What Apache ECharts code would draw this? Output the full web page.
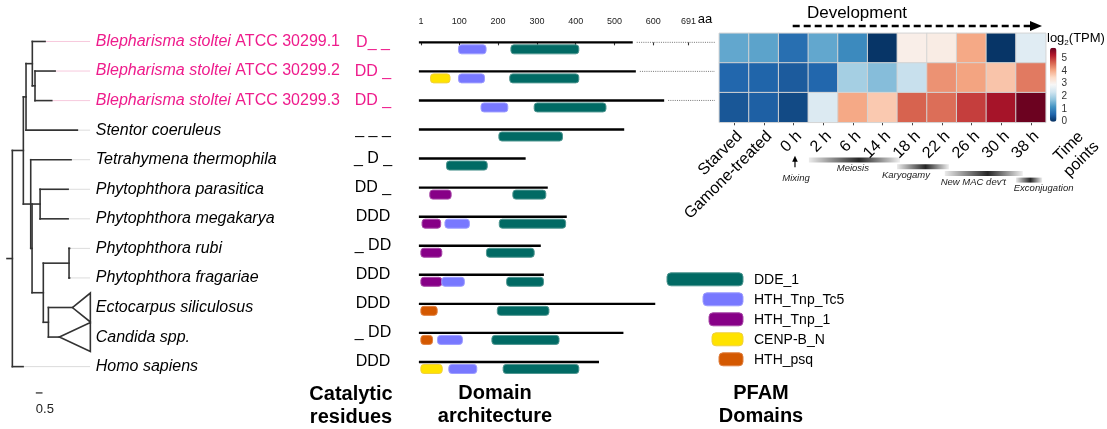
<!DOCTYPE html>
<html><head><meta charset="utf-8">
<script src="https://cdn.jsdelivr.net/npm/echarts@6/dist/echarts.min.js"></script>
<style>html,body{margin:0;padding:0;background:#fff}#c{width:1107px;height:429px}</style>
</head><body><div id="c"></div>
<script>
const FONT = '"Liberation Sans", Arial, Helvetica, sans-serif';
const PINK = '#ee1c8c';

// ---- data ----
const speciesNames = ['Blepharisma stoltei ATCC 30299.1','Blepharisma stoltei ATCC 30299.2','Blepharisma stoltei ATCC 30299.3',
  'Stentor coeruleus','Tetrahymena thermophila','Phytophthora parasitica','Phytophthora megakarya','Phytophthora rubi',
  'Phytophthora fragariae','Ectocarpus siliculosus','Candida spp.','Homo sapiens'];
const highlighted = [true,true,true,false,false,false,false,false,false,false,false,false];
const catalytic = ['D_ _','DD _','DD _','_ _ _','_ D _','DD _','DDD','_ DD','DDD','DDD','_ DD','DDD'];
const proteinLength = [547,555,628,525,271,328,377,310,318,605,523,460];
const domainNames = ['DDE_1','HTH_Tnp_Tc5','HTH_Tnp_1','CENP-B_N','HTH_psq'];
// [row, domainIndex, start aa, end aa]
const domains = [
  [0,1,98,169],[0,0,233,408],
  [1,3,26,76],[1,1,98,165],[1,0,230,408],
  [2,1,156,225],[2,0,293,478],
  [3,0,202,366],
  [4,0,67,172],
  [5,2,24,79],[5,0,238,323],
  [6,2,4,52],[6,1,63,126],[6,0,203,374],
  [7,2,1,55],[7,0,170,293],
  [8,2,1,55],[8,1,55,113],[8,0,222,317],
  [9,4,1,43],[9,0,198,331],
  [10,4,1,31],[10,1,44,108],[10,0,184,357],
  [11,3,1,56],[11,1,73,145],[11,0,213,408]
];
const aaTicks = [1,100,200,300,400,500,600,691];
// tree: [id, parent, branch length]; tips tN = species row N
const treeNodes = [
  ['R',null,0],
  ['F','R',0.82],['C','F',0.20],['B','C',0.47],['t0','B',0.95],['A','B',0.20],['t1','A',1.50],['t2','A',1.25],['t3','C',3.83],
  ['G','F',0.55],['t4','G',3.01],['H','G',0.10],['I','H',0.60],['t5','I',2.09],['t6','I',2.09],
  ['J','H',0.84],['K','J',1.92],['t7','K',0.04],['t8','K',0.04],['L','J',0.38],['t9','L',1.79],['t10','L',0.82],
  ['t11','R',0.80]
];
const collapsedDepth = {t9:5.82, t10:5.82};
const scaleBarLength = 0.5;
const timePoints = ['Starved','Gamone-treated','0 h','2 h','6 h','14 h','18 h','22 h','26 h','30 h','38 h'];
const expr1 = [1.4,1.35,0.7,1.4,1.05,0.05,3.1,3.15,4.05,0.05,2.57];
const expr2 = [0.6,0.57,0.47,0.6,1.93,1.66,2.25,4.25,4.1,3.75,4.45];
const expr3 = [0.42,0.52,0.28,2.5,4.05,3.7,4.65,4.55,4.95,5.35,5.8];
const stageNames = ['Meiosis','Karyogamy',"New MAC dev't",'Exconjugation'];
const stageStart = [2.52,5.49,7.1,9.5];
const stageEnd = [5.59,7.24,9.73,10.38];
const stageLabelAt = [4.0,5.79,8.06,10.43];
const mixingAt = 2;
const colorbarTicks = [0,1,2,3,4,5];

// ---- styles ----
const domainFill = ['#016a64','#7878ff','#870087','#ffe300','#d45800'];
const domainStroke = ['#4f9690','#9d9dff','#a84aa8','#f0d040','#e08040'];
const legendWidths = [76,40,34,31,24];
const RdBu = ['#053061','#2166ac','#4393c3','#92c5de','#d1e5f0','#f7f7f7','#fddbc7','#f4a582','#d6604d','#b2182b','#67001f'];

// ---- tree layout ----
const nodes = {};
treeNodes.forEach(n => nodes[n[0]] = {id:n[0], parent:n[1], bl:n[2], children:[]});
treeNodes.forEach(n => { if (n[1]) nodes[n[1]].children.push(nodes[n[0]]); });
function layout(nd, depth){
  nd.depth = depth;
  if (!nd.children.length) nd.y = +nd.id.slice(1);
  else { nd.children.forEach(c => layout(c, depth + c.bl)); nd.y = (nd.children[0].y + nd.children[nd.children.length-1].y)/2; }
}
layout(nodes.R, 0);
const segs = [[-0.4, nodes.R.y, 0, nodes.R.y, 0]];
const tris = [];
Object.values(nodes).forEach(nd => {
  if (nd.children.length){
    segs.push([nd.depth, nd.children[0].y, nd.depth, nd.children[nd.children.length-1].y, 0]);
    nd.children.forEach(c => segs.push([nd.depth, c.y, c.depth, c.y, 0]));
  } else if (collapsedDepth[nd.id] !== undefined) {
    tris.push([nd.depth, nd.y, collapsedDepth[nd.id]]);
  } else {
    segs.unshift([nd.depth, nd.y, 5.8, nd.y, highlighted[nd.y] ? 1 : 2]);
  }
});

const heatData = [];
[expr1,expr2,expr3].forEach((r,ri)=>r.forEach((v,ci)=>heatData.push([ci,ri,v])));

const chart = echarts.init(document.getElementById('c'));
const option = {
  backgroundColor:'#fff',
  animation:false,
  textStyle:{fontFamily:FONT},
  grid:[
    {left:7, top:26.7, width:83.75, height:354.7},
    {left:420.5, top:27.8, width:294.5, height:348.7},
    {left:719.3, top:33.3, width:326.4, height:89},
    {left:1050, top:47.7, width:6.5, height:74}
  ],
  xAxis:[
    {gridIndex:0, type:'value', min:-0.4, max:5.85, show:false},
    {gridIndex:1, type:'value', min:0, max:759, position:'top',
      axisLine:{show:false}, splitLine:{show:false},
      axisTick:{show:true, inside:true, length:3, customValues:aaTicks, lineStyle:{color:'#333', width:1.1}},
      axisLabel:{customValues:aaTicks.concat([733]), margin:2, fontSize:9, color:'#222',
        formatter:v => v === 733 ? '{aa|aa}' : String(v), rich:{aa:{fontSize:13, color:'#000'}}}},
    {gridIndex:2, type:'category', data:timePoints, position:'bottom',
      axisLine:{show:false}, axisTick:{show:true, length:3, alignWithLabel:true, lineStyle:{color:'#444'}},
      axisLabel:{rotate:45, fontSize:16, color:'#000', margin:6, interval:0, verticalAlign:'top'}},
    {gridIndex:2, type:'value', min:-0.5, max:10.5, show:false},
    {gridIndex:3, type:'value', min:0, max:1, show:false}
  ],
  yAxis:[
    {gridIndex:0, type:'value', inverse:true, min:-0.5, max:11.5, show:false},
    {gridIndex:0, type:'category', inverse:true, data:speciesNames, position:'right',
      axisLine:{show:false}, axisTick:{show:false},
      axisLabel:{margin:5, interval:0, fontSize:16,
        formatter:(v,i)=>{
          if (highlighted[i]) { const it = 'Blepharisma stoltei'; return '{pi|'+it+'} {pn|'+v.slice(it.length+1)+'}'; }
          return '{i|'+v+'}';
        },
        rich:{pi:{fontStyle:'italic', color:PINK, fontSize:16}, pn:{color:PINK, fontSize:16}, i:{fontStyle:'italic', color:'#000', fontSize:16}}}},
    {gridIndex:1, type:'value', inverse:true, min:-0.5, max:11.5, show:false},
    {gridIndex:1, type:'category', inverse:true, data:speciesNames, position:'left',
      axisLine:{show:false}, axisTick:{show:false},
      axisLabel:{margin:47.5, align:'center', interval:0, fontSize:16,
        formatter:(v,i)=>catalytic[i], color:(v,i)=>highlighted[i] ? PINK : '#000'}},
    {gridIndex:2, type:'category', inverse:true, data:['r1','r2','r3'], show:false},
    {gridIndex:3, type:'value', min:0, max:5.84, position:'right',
      axisLine:{show:false}, splitLine:{show:false},
      axisTick:{show:true, inside:true, length:2, customValues:colorbarTicks, lineStyle:{color:'#fff'}},
      axisLabel:{customValues:colorbarTicks, fontSize:10, color:'#333', margin:5}}
  ],
  visualMap:{type:'continuous', min:0, max:5.84, seriesIndex:5, inRange:{color:RdBu},
    calculable:false, left:1050, top:47.7, itemWidth:6.5, itemHeight:74, padding:0, orient:'vertical'},
  series:[
    {type:'custom', xAxisIndex:0, yAxisIndex:0, clip:false, data:segs,
      renderItem:(p,api)=>{
        const a = api.coord([api.value(0),api.value(1)]), b = api.coord([api.value(2),api.value(3)]);
        const k = api.value(4);
        return {type:'line', shape:{x1:a[0],y1:a[1],x2:b[0],y2:b[1]},
          style:{stroke: k===0 ? '#333' : (k===1 ? '#f7c9dd' : '#dcdcdc'), lineWidth: k===0 ? 1.6 : 1, lineCap: k===0 ? 'square' : 'butt'}};
      }},
    {type:'custom', xAxisIndex:0, yAxisIndex:0, clip:false, data:tris,
      renderItem:(p,api)=>{
        const apex = api.coord([api.value(0),api.value(1)]);
        const t = api.coord([api.value(2),api.value(1)-0.49]);
        const b = api.coord([api.value(2),api.value(1)+0.49]);
        return {type:'polygon', shape:{points:[apex,t,b]}, style:{fill:'none', stroke:'#333', lineWidth:1.6}};
      }},
    {type:'custom', xAxisIndex:0, yAxisIndex:0, clip:false, data:[[scaleBarLength]],
      renderItem:(p,api)=>{
        const len = api.value(0);
        const a = api.coord([1.75, 11.89]), b = api.coord([1.75+len, 11.89]);
        const t = api.coord([1.75, 12.45]);
        return {type:'group', children:[
          {type:'line', shape:{x1:a[0],y1:a[1],x2:b[0],y2:b[1]}, style:{stroke:'#333', lineWidth:1.3}},
          {type:'text', style:{x:t[0], y:t[1], text:String(len), fill:'#222', fontSize:13, fontFamily:FONT, align:'left', verticalAlign:'middle'}}
        ]};
      }},
    {type:'custom', xAxisIndex:1, yAxisIndex:2, clip:false,
      data:proteinLength.map((L,i)=>[L, i, i<3 ? 1 : 0]),
      renderItem:(p,api)=>{
        const L = api.value(0), r = api.value(1);
        const a = api.coord([1,r]), b = api.coord([L,r]), e = api.coord([759,r]);
        const ch = [{type:'line', shape:{x1:a[0]-2,y1:a[1],x2:b[0],y2:b[1]}, style:{stroke:'#000', lineWidth:2.4}}];
        if (api.value(2)) ch.push({type:'line', shape:{x1:b[0]+4,y1:b[1],x2:e[0],y2:e[1]}, style:{stroke:'#666', lineWidth:0.9, lineDash:[1,1.2]}});
        return {type:'group', children:ch};
      }},
    {type:'custom', xAxisIndex:1, yAxisIndex:2, clip:false,
      data:domains.map(d=>[d[2], d[0], d[3], d[1]]),
      renderItem:(p,api)=>{
        const a = api.coord([api.value(0), api.value(1)]), b = api.coord([api.value(2), api.value(1)]);
        const k = api.value(3);
        return {type:'rect', shape:{x:a[0], y:a[1]+2.5, width:b[0]-a[0], height:9, r:3},
          style:{fill:domainFill[k], stroke:domainStroke[k], lineWidth:1}};
      }},
    {type:'heatmap', xAxisIndex:2, yAxisIndex:4, data:heatData,
      itemStyle:{borderColor:'#d4d4d4', borderWidth:1}, emphasis:{disabled:true}},
    {type:'custom', xAxisIndex:3, yAxisIndex:4, clip:false,
      data:stageNames.map((n,i)=>[stageStart[i], stageEnd[i], stageLabelAt[i], i]),
      renderItem:(p,api)=>{
        const cs = p.coordSys; const bottom = cs.y + cs.height;
        const i = api.value(3);
        const a = api.coord([api.value(0), 0]), b = api.coord([api.value(1), 0]), l = api.coord([api.value(2), 0]);
        const yc = bottom + 37.7 + i*6.7;
        return {type:'group', children:[
          {type:'rect', shape:{x:a[0], y:yc-2.5, width:b[0]-a[0], height:5},
            style:{fill:new echarts.graphic.LinearGradient(0,0,1,0,[
              {offset:0, color:'rgba(0,0,0,0.08)'},{offset:0.55, color:'rgba(0,0,0,0.85)'},{offset:1, color:'rgba(0,0,0,0.06)'}])}},
          {type:'text', style:{x:l[0], y:yc+8.7, text:stageNames[i], fill:'#222', fontSize:9.5, fontStyle:'italic', fontFamily:FONT, align:'center', verticalAlign:'middle'}}
        ]};
      }},
    {type:'custom', xAxisIndex:3, yAxisIndex:4, clip:false, data:[[mixingAt]],
      renderItem:(p,api)=>{
        const cs = p.coordSys; const bottom = cs.y + cs.height;
        const x = api.coord([api.value(0), 0])[0] + 1.5;
        return {type:'group', children:[
          {type:'line', shape:{x1:x, y1:bottom+45, x2:x, y2:bottom+38}, style:{stroke:'#000', lineWidth:1.2}},
          {type:'polygon', shape:{points:[[x, bottom+33.5],[x-2.8, bottom+39.5],[x+2.8, bottom+39.5]]}, style:{fill:'#000'}},
          {type:'text', style:{x:x+1, y:bottom+56, text:'Mixing', fill:'#222', fontSize:9.5, fontStyle:'italic', fontFamily:FONT, align:'center', verticalAlign:'middle'}}
        ]};
      }}
  ],
  graphic:[
    {type:'text', x:857, y:13.5, style:{text:'Development', fill:'#000', fontSize:17, fontFamily:FONT, align:'center', verticalAlign:'middle'}},
    {type:'line', shape:{x1:792.7, y1:26, x2:1031, y2:26}, style:{stroke:'#000', lineWidth:2.5, lineDash:[7,4]}},
    {type:'polygon', shape:{points:[[1030,21],[1042,26],[1030,31]]}, style:{fill:'#000'}},
    {type:'text', x:1047, y:38.5, style:{text:'{a|log}{s|2}{a|(TPM)}', fontFamily:FONT, verticalAlign:'middle', align:'left',
      rich:{a:{fontSize:13, fill:'#000', fontFamily:FONT}, s:{fontSize:8, fill:'#000', verticalAlign:'bottom', padding:[8,0,0,0], fontFamily:FONT}}}},
    {type:'text', x:1075, y:153, rotation:Math.PI/4, style:{text:'Time\npoints', fill:'#000', fontSize:16, lineHeight:18, fontFamily:FONT, align:'center', verticalAlign:'middle'}},
    {type:'text', x:351, y:405.5, style:{text:'Catalytic\nresidues', fill:'#000', fontSize:20, fontWeight:'bold', lineHeight:23, fontFamily:FONT, align:'center', verticalAlign:'middle'}},
    {type:'text', x:495, y:405, style:{text:'Domain\narchitecture', fill:'#000', fontSize:20, fontWeight:'bold', lineHeight:23, fontFamily:FONT, align:'center', verticalAlign:'middle'}},
    {type:'text', x:761, y:404.5, style:{text:'PFAM\nDomains', fill:'#000', fontSize:20, fontWeight:'bold', lineHeight:23, fontFamily:FONT, align:'center', verticalAlign:'middle'}}
  ].concat(domainNames.flatMap((n,i)=>[
    {type:'rect', shape:{x:743-legendWidths[i], y:279.3+i*20-6.5, width:legendWidths[i], height:13, r:4},
      style:{fill:domainFill[i], stroke:domainStroke[i], lineWidth:1}},
    {type:'text', x:754, y:279.8+i*20, style:{text:n, fill:'#000', fontSize:14, fontFamily:FONT, align:'left', verticalAlign:'middle'}}
  ]))
};
chart.setOption(option);
</script>
</body></html>
